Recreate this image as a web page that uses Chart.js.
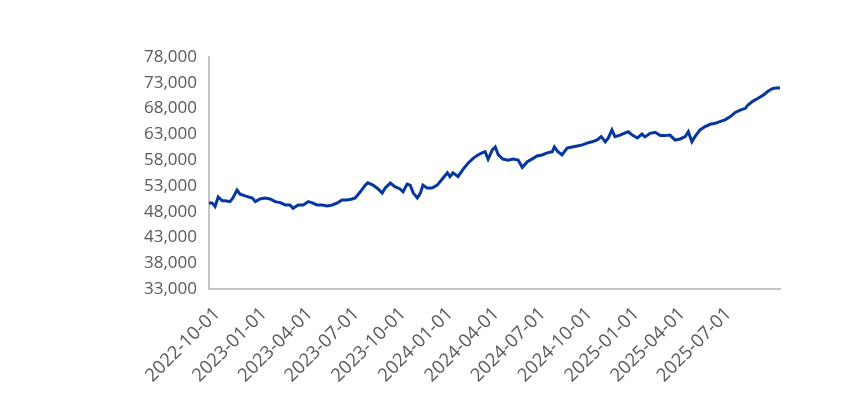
<!DOCTYPE html>
<html>
<head>
<meta charset="utf-8">
<script src="https://cdn.jsdelivr.net/npm/chart.js@4/dist/chart.umd.min.js"></script>
<style>
  body { margin: 0; background: #fff; }
  canvas { display: block; }
</style>
</head>
<body>
<canvas id="chart" width="867" height="397"></canvas>
<script>
// Series (approx. one reading every ~10 days)
const dates = [
  "2022-09-15", "2022-09-21", "2022-09-27", "2022-10-03", "2022-10-11", "2022-10-17", "2022-10-26",
  "2022-11-01", "2022-11-09", "2022-11-15", "2022-11-25", "2022-12-09", "2022-12-15", "2022-12-24",
  "2023-01-03", "2023-01-13", "2023-01-23", "2023-02-02", "2023-02-12", "2023-02-21", "2023-02-27",
  "2023-03-09", "2023-03-19", "2023-03-29", "2023-04-06", "2023-04-15", "2023-04-25", "2023-05-05",
  "2023-05-15", "2023-05-25", "2023-06-03", "2023-06-13", "2023-06-23", "2023-06-29", "2023-07-09",
  "2023-07-19", "2023-07-24", "2023-08-03", "2023-08-13", "2023-08-21", "2023-08-27", "2023-09-06",
  "2023-09-15", "2023-09-25", "2023-10-01", "2023-10-09", "2023-10-15", "2023-10-21", "2023-10-29",
  "2023-11-04", "2023-11-09", "2023-11-17", "2023-11-27", "2023-12-07", "2023-12-17", "2023-12-27",
  "2024-01-01", "2024-01-07", "2024-01-17", "2024-01-27", "2024-02-06", "2024-02-16", "2024-02-25",
  "2024-03-04", "2024-03-10", "2024-03-16", "2024-03-24", "2024-03-30", "2024-04-05", "2024-04-14",
  "2024-04-24", "2024-05-04", "2024-05-14", "2024-05-22", "2024-06-01", "2024-06-10", "2024-06-20",
  "2024-06-30", "2024-07-10", "2024-07-20", "2024-07-24", "2024-07-31", "2024-08-08", "2024-08-18",
  "2024-08-28", "2024-09-07", "2024-09-17", "2024-09-26", "2024-10-06", "2024-10-16", "2024-10-24",
  "2024-11-01", "2024-11-07", "2024-11-14", "2024-11-20", "2024-11-30", "2024-12-10", "2024-12-16",
  "2024-12-24", "2025-01-03", "2025-01-12", "2025-01-18", "2025-01-28", "2025-02-07", "2025-02-17",
  "2025-02-26", "2025-03-08", "2025-03-18", "2025-03-28", "2025-04-07", "2025-04-13", "2025-04-20",
  "2025-04-26", "2025-05-06", "2025-05-16", "2025-05-26", "2025-06-05", "2025-06-14", "2025-06-24",
  "2025-07-04", "2025-07-14", "2025-07-24", "2025-08-03", "2025-08-08", "2025-08-18", "2025-08-28",
  "2025-09-07", "2025-09-17", "2025-09-26", "2025-10-06", "2025-10-10"
];
const values = [
  49700, 49700, 49000, 50850, 50100, 50100, 49950,
  50650, 52200, 51400, 51050, 50650, 49950, 50450,
  50650, 50450, 49950, 49750, 49300, 49300, 48650,
  49300, 49300, 49950, 49700, 49300, 49300, 49100,
  49300, 49700, 50250, 50250, 50450, 50650, 51850,
  53150, 53600, 53150, 52400, 51600, 52600, 53550,
  52850, 52400, 51850, 53350, 53150, 51600, 50650,
  51600, 53150, 52600, 52600, 53150, 54350, 55550,
  54800, 55550, 54800, 56250, 57450, 58400, 59000,
  59400, 59650, 58200, 59950, 60550, 59000, 58200,
  58000, 58200, 58000, 56600, 57700, 58200, 58800,
  59000, 59400, 59650, 60550, 59650, 59000, 60350,
  60550, 60750, 60950, 61300, 61550, 61900, 62550,
  61550, 62300, 63850, 62550, 62850, 63300, 63500,
  62850, 62300, 63050, 62500, 63200, 63400, 62750,
  62750, 62850, 61900, 62100, 62550, 63500, 61550,
  62550, 63850, 64500, 64950, 65150, 65450, 65800,
  66400, 67250, 67700, 68050, 68700, 69450, 70000,
  70600, 71400, 71900, 72050, 71900
];

// Axis labels and range
const tickLabels = [
  "2022-10-01", "2023-01-01", "2023-04-01", "2023-07-01", "2023-10-01", "2024-01-01",
  "2024-04-01", "2024-07-01", "2024-10-01", "2025-01-01", "2025-04-01", "2025-07-01"
];
const axisStart = "2022-09-15";
const axisEnd = "2025-10-10";
const yMin = 33000;
const yMax = 78000;
const yStep = 5000;

// days since first quarter label
const DAY = 86400000;
const origin = Date.parse(tickLabels[0]);
const toDay = d => Math.round((Date.parse(d) - origin) / DAY);

const points = dates.map((d, i) => ({ x: toDay(d), y: values[i] }));
const tickDays = tickLabels.map(toDay);

const textColor = "#595959";
const axisColor = "#c4c4c4";
const family = "'Open Sans', sans-serif";

new Chart(document.getElementById("chart"), {
  type: "line",
  data: {
    datasets: [{
      data: points,
      borderColor: "#0636a0",
      borderWidth: 3,
      pointRadius: 0,
      tension: 0,
      fill: false
    }]
  },
  options: {
    responsive: false,
    animation: false,
    layout: { padding: { top: 57, right: 87, left: 0, bottom: 0 } },
    plugins: { legend: { display: false }, tooltip: { enabled: false } },
    scales: {
      x: {
        type: "linear",
        min: toDay(axisStart),
        max: toDay(axisEnd),
        grid: { display: false, drawTicks: false },
        border: { display: true, color: axisColor, width: 2 },
        afterBuildTicks: s => { s.ticks = tickDays.map(v => ({ value: v })); },
        afterFit: s => { s.height = 108; },
        ticks: {
          autoSkip: false,
          minRotation: 45,
          maxRotation: 45,
          padding: 14,
          color: textColor,
          font: { family, size: 18.5 },
          callback: (v, i) => tickLabels[i]
        }
      },
      y: {
        min: yMin,
        max: yMax,
        grid: { display: false, drawTicks: false },
        border: { display: true, color: axisColor, width: 2 },
        afterFit: s => { s.width = 209; },
        ticks: {
          stepSize: yStep,
          padding: 12,
          color: textColor,
          font: { family, size: 17 },
          callback: v => v.toLocaleString("en-US")
        }
      }
    }
  }
});
</script>
</body>
</html>
